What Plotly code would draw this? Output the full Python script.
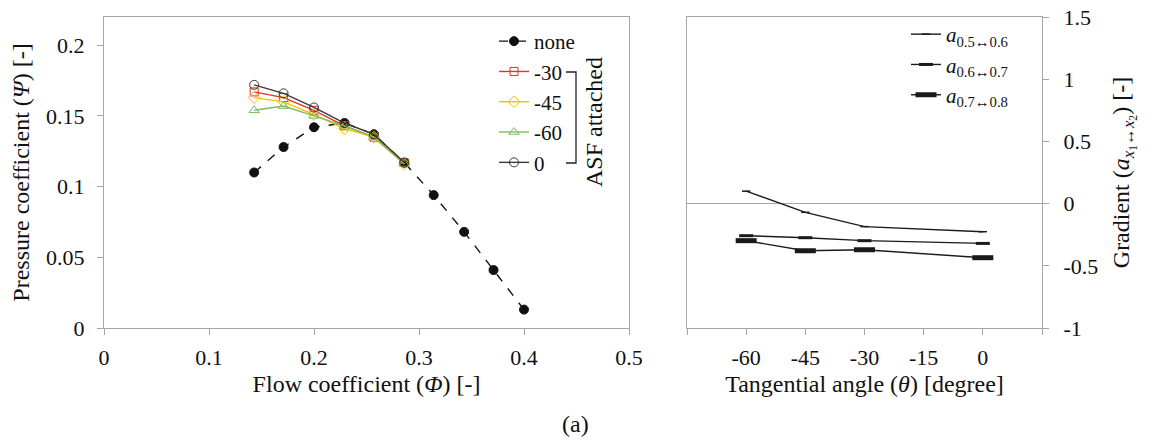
import plotly.graph_objects as go

# ---------------- data ----------------
phi_none = [0.143, 0.171, 0.200, 0.229, 0.257, 0.286, 0.314, 0.343, 0.371, 0.400]
psi_none = [0.110, 0.128, 0.142, 0.145, 0.137, 0.117, 0.094, 0.068, 0.041, 0.013]

phi_asf = [0.143, 0.171, 0.200, 0.229, 0.257, 0.286]
psi_m30 = [0.167, 0.163, 0.154, 0.143, 0.135, 0.117]
psi_m45 = [0.163, 0.160, 0.151, 0.141, 0.135, 0.116]
psi_m60 = [0.154, 0.157, 0.150, 0.143, 0.135, 0.116]
psi_0 = [0.172, 0.166, 0.156, 0.145, 0.137, 0.117]

theta = [-60, -45, -30, 0]
grad_05_06 = [0.10, -0.07, -0.185, -0.226]
grad_06_07 = [-0.258, -0.274, -0.298, -0.320]
grad_07_08 = [-0.298, -0.379, -0.371, -0.435]

left_x_ticks = [0, 0.1, 0.2, 0.3, 0.4, 0.5]
left_x_labels = ["0", "0.1", "0.2", "0.3", "0.4", "0.5"]
left_y_ticks = [0, 0.05, 0.1, 0.15, 0.2]
left_y_labels = ["0", "0.05", "0.1", "0.15", "0.2"]
right_x_ticks = [-75, -60, -45, -30, -15, 0, 15]
right_x_labels = ["", "-60", "-45", "-30", "-15", "0", ""]
right_y_ticks = [-1, -0.5, 0, 0.5, 1, 1.5]
right_y_labels = ["-1", "-0.5", "0", "0.5", "1", "1.5"]

# ---------------- style ----------------
FONT = "Liberation Serif"
W, H = 1151, 445
ML, MR, MT, MB = 104, 109, 17, 117
PW, PH = W - ML - MR, H - MT - MB
AX = "#a6a6a6"
TICK_SIZE = 22
TITLE_SIZE = 24

def px_x(p):
    return (p - ML) / PW

def px_y(p):
    return (H - MB - p) / PH

fig = go.Figure()

def add_left(name, x, y, color, symbol, dash="solid", filled=False, size=8):
    fig.add_trace(go.Scatter(
        x=x, y=y, name=name, mode="lines+markers",
        line=dict(color=color, width=1.4, dash=dash),
        marker=dict(symbol=symbol, size=size,
                    color=color if filled else "rgba(255,255,255,0)",
                    line=dict(color=color, width=1)),
        xaxis="x", yaxis="y", legend="legend", legendgroup=name,
    ))

add_left("none", phi_none, psi_none, "#111111", "circle", dash="dash", filled=True, size=9)
add_left("-30", phi_asf, psi_m30, "#e8302a", "square", size=8)
add_left("-45", phi_asf, psi_m45, "#f2c200", "diamond", size=9)
add_left("-60", phi_asf, psi_m60, "#7cbf62", "triangle-up", size=9)
add_left("0", phi_asf, psi_0, "#3a3a3a", "circle", size=9)

def add_right(name, y, size, mw):
    fig.add_trace(go.Scatter(
        x=theta, y=y, name=name, mode="lines+markers",
        line=dict(color="#1a1a1a", width=1.4),
        marker=dict(symbol="line-ew-open", size=size,
                    line=dict(color="#1a1a1a", width=mw)),
        xaxis="x2", yaxis="y2", legend="legend2", legendgroup=name,
    ))

add_right("<i>a</i><sub>0.5↔0.6</sub>", grad_05_06, 6, 1.5)
add_right("<i>a</i><sub>0.6↔0.7</sub>", grad_06_07, 10, 3)
add_right("<i>a</i><sub>0.7↔0.8</sub>", grad_07_08, 15, 5)

axis_common = dict(
    showline=True, linecolor=AX, linewidth=1, mirror=True,
    ticks="outside", ticklen=6, tickcolor=AX, tickwidth=1,
    showgrid=False, zeroline=False, automargin=False,
    tickfont=dict(family=FONT, size=TICK_SIZE, color="#111"),
)

fig.update_layout(
    width=W, height=H,
    margin=dict(l=ML, r=MR, t=MT, b=MB, autoexpand=False),
    paper_bgcolor="white", plot_bgcolor="white",
    font=dict(family=FONT, size=TICK_SIZE, color="#111"),
    xaxis=dict(axis_common, domain=[0, px_x(629)], range=[0, 0.5],
               tickvals=left_x_ticks, ticktext=left_x_labels, anchor="y",
               ticklabelstandoff=4,
               title=dict(text="Flow coefficient (<i>Φ</i>) [-]", standoff=5,
                          font=dict(family=FONT, size=TITLE_SIZE))),
    yaxis=dict(axis_common, domain=[0, 1], range=[0, 0.22],
               tickvals=left_y_ticks, ticktext=left_y_labels, anchor="x",
               ticklabelstandoff=8,
               title=dict(text="Pressure coefficient (<i>Ψ</i>) [-]", standoff=9,
                          font=dict(family=FONT, size=TITLE_SIZE))),
    xaxis2=dict(axis_common, domain=[px_x(687), 1], range=[-75, 15],
                tickvals=right_x_ticks, ticktext=right_x_labels, anchor="y2",
                ticklabelstandoff=4,
                title=dict(text="Tangential angle (<i>θ</i>) [degree]", standoff=5,
                           font=dict(family=FONT, size=TITLE_SIZE))),
    yaxis2=dict(axis_common, domain=[0, 1], range=[-1, 1.5],
                tickvals=right_y_ticks, ticktext=right_y_labels, anchor="x2",
                side="right", zeroline=True, zerolinecolor=AX, zerolinewidth=1,
                ticklabelstandoff=10,
                title=dict(text="Gradient (<i>a</i><sub><i>x</i><sub>1</sub>↔<i>x</i><sub>2</sub></sub>) [-]",
                           standoff=14, font=dict(family=FONT, size=TITLE_SIZE))),
    legend=dict(x=px_x(494), y=px_y(21), xanchor="left", yanchor="top",
                bgcolor="rgba(0,0,0,0)", font=dict(family=FONT, size=21),
                traceorder="grouped", tracegroupgap=0, itemwidth=30),
    legend2=dict(x=px_x(906), y=px_y(14), xanchor="left", yanchor="top",
                 bgcolor="rgba(0,0,0,0)", font=dict(family=FONT, size=21),
                 traceorder="grouped", tracegroupgap=0, itemwidth=30),
    showlegend=True,
)

# bracket grouping the ASF attached entries
fig.add_shape(type="path", xref="paper", yref="paper",
              path=f"M {px_x(566)} {px_y(72)} L {px_x(576)} {px_y(72)} "
                   f"L {px_x(576)} {px_y(163)} L {px_x(566)} {px_y(163)}",
              line=dict(color="#222", width=1.3))
fig.add_annotation(text="ASF attached", xref="paper", yref="paper",
                   x=px_x(594), y=px_y(122), xanchor="center", yanchor="middle",
                   textangle=-90, showarrow=False,
                   font=dict(family=FONT, size=TITLE_SIZE, color="#111"))
fig.add_annotation(text="(a)", xref="paper", yref="paper",
                   x=px_x(575), y=px_y(424), xanchor="center", yanchor="middle",
                   showarrow=False,
                   font=dict(family=FONT, size=TITLE_SIZE, color="#111"))

fig.write_html("out.html")
